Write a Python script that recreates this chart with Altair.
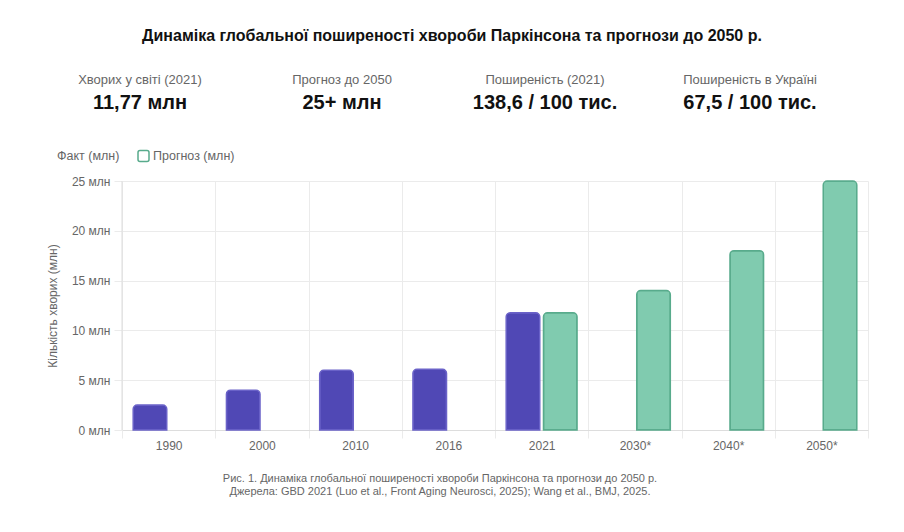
import altair as alt
import pandas as pd

# Categories and series (millions of patients)
years = ["1990", "2000", "2010", "2016", "2021", "2030*", "2040*", "2050*"]
fact_values = [2.5, 4.0, 6.0, 6.1, 11.77, None, None, None]
forecast_values = [None, None, None, None, 11.77, 14.0, 18.0, 25.0]
series_names = ["Факт (млн)", "Прогноз (млн)"]
y_ticks = [0, 5, 10, 15, 20, 25]

title_text = "Динаміка глобальної поширеності хвороби Паркінсона та прогнози до 2050 р."
stat_labels = ["Хворих у світі (2021)", "Прогноз до 2050", "Поширеність (2021)", "Поширеність в Україні"]
stat_values = ["11,77 млн", "25+ млн", "138,6 / 100 тис.", "67,5 / 100 тис."]
caption_lines = [
    "Рис. 1. Динаміка глобальної поширеності хвороби Паркінсона та прогнози до 2050 р.",
    "Джерела: GBD 2021 (Luo et al., Front Aging Neurosci, 2025); Wang et al., BMJ, 2025.",
]

FONT = "Liberation Sans"
PURPLE = "#5048b5"
GREEN_FILL = "#80cbaf"
GREEN_EDGE = "#58ab8c"
GRID = "#ebebeb"
TEXT_GRAY = "#666666"

W, H = 746, 249
PAD = {"left": 122, "top": 181, "right": 36, "bottom": 102}

rows = []
for i, yr in enumerate(years):
    rows.append({"year": yr, "series": series_names[0], "value": fact_values[i]})
    rows.append({"year": yr, "series": series_names[1], "value": forecast_values[i]})
df = pd.DataFrame(rows)

x_enc = alt.X(
    "year:N",
    sort=years,
    scale=alt.Scale(paddingInner=0, paddingOuter=0),
    axis=alt.Axis(
        title=None,
        tickBand="extent",
        grid=True,
        gridColor=GRID,
        domainColor="#dddddd",
        tickColor=GRID,
        tickSize=8,
        labelAngle=0,
        labelFont=FONT,
        labelFontSize=12,
        labelColor=TEXT_GRAY,
        labelPadding=2,
    ),
)

bars = (
    alt.Chart(df)
    .transform_filter("datum.value != null")
    .mark_bar(cornerRadiusTopLeft=4, cornerRadiusTopRight=4, strokeWidth=1.5)
    .encode(
        x=x_enc,
        xOffset=alt.XOffset(
            "series:N",
            sort=series_names,
            scale=alt.Scale(domain=series_names, paddingInner=0.1, paddingOuter=0.3),
        ),
        y=alt.Y(
            "value:Q",
            scale=alt.Scale(domain=[0, 25], nice=False),
            axis=alt.Axis(
                values=y_ticks,
                labelExpr="datum.value + ' млн'",
                grid=True,
                gridColor=GRID,
                domain=False,
                tickColor=GRID,
                tickSize=8,
                labelFont=FONT,
                labelFontSize=12,
                labelColor=TEXT_GRAY,
                labelPadding=4,
                title="Кількість хворих (млн)",
                titleFont=FONT,
                titleFontSize=12,
                titleFontWeight="normal",
                titleColor=TEXT_GRAY,
                titlePadding=12,
            ),
        ),
        color=alt.Color(
            "series:N",
            scale=alt.Scale(domain=series_names, range=[PURPLE, GREEN_FILL]),
            legend=None,
        ),
        stroke=alt.Stroke(
            "series:N",
            scale=alt.Scale(domain=series_names, range=["#6a62c8", GREEN_EDGE]),
            legend=None,
        ),
    )
)

# Left border of the plot area
left_edge = alt.Chart(pd.DataFrame({"v": [0]})).mark_rule(color="#dddddd").encode(
    x=alt.value(0), y=alt.value(0), y2=alt.value(H)
)

# Title
title_df = pd.DataFrame({"t": [title_text]})
title_mark = alt.Chart(title_df).mark_text(
    font=FONT, fontSize=16, fontWeight="bold", color="#111111", align="center", baseline="middle"
).encode(text="t:N", x=alt.value(452 - PAD["left"]), y=alt.value(36 - PAD["top"]))

# Summary statistics row
stat_x = [140, 342, 545, 750]
stats_df = pd.DataFrame({"label": stat_labels, "value": stat_values, "px": [c - PAD["left"] for c in stat_x]})
stat_label_mark = alt.Chart(stats_df).mark_text(
    font=FONT, fontSize=13, color=TEXT_GRAY, align="center", baseline="middle"
).encode(text="label:N", x=alt.X("px:Q", scale=None), y=alt.value(80 - PAD["top"]))
stat_value_mark = alt.Chart(stats_df).mark_text(
    font=FONT, fontSize=20, fontWeight="bold", color="#111111", align="center", baseline="middle"
).encode(text="value:N", x=alt.X("px:Q", scale=None), y=alt.value(103 - PAD["top"]))

# Legend
legend_y = 156 - PAD["top"]
legend_fact = alt.Chart(pd.DataFrame({"t": [series_names[0]]})).mark_text(
    font=FONT, fontSize=12.5, color=TEXT_GRAY, align="left", baseline="middle"
).encode(text="t:N", x=alt.value(57 - PAD["left"]), y=alt.value(legend_y))
legend_box = alt.Chart(pd.DataFrame({"v": [0]})).mark_rect(
    fill="#ffffff", stroke=GREEN_EDGE, strokeWidth=1.5, cornerRadius=2
).encode(
    x=alt.value(138 - PAD["left"]), x2=alt.value(149 - PAD["left"]),
    y=alt.value(legend_y - 5.5), y2=alt.value(legend_y + 5.5),
)
legend_fc = alt.Chart(pd.DataFrame({"t": [series_names[1]]})).mark_text(
    font=FONT, fontSize=12.5, color=TEXT_GRAY, align="left", baseline="middle"
).encode(text="t:N", x=alt.value(153 - PAD["left"]), y=alt.value(legend_y))

# Caption
cap_df = pd.DataFrame({"t": caption_lines, "py": [479 - PAD["top"], 492 - PAD["top"]]})
caption = alt.Chart(cap_df).mark_text(
    font=FONT, fontSize=11, color=TEXT_GRAY, align="center", baseline="middle"
).encode(text="t:N", x=alt.value(440 - PAD["left"]), y=alt.Y("py:Q", scale=None))

chart = (
    alt.layer(
        bars, left_edge, title_mark, stat_label_mark, stat_value_mark,
        legend_fact, legend_box, legend_fc, caption,
    )
    .resolve_scale(x="independent", y="independent")
    .properties(width=W, height=H, autosize=alt.AutoSizeParams(type="none"), padding=PAD, background="#ffffff")
    .configure_view(stroke=None)
)

chart.save("out.html", embed_options={"renderer": "svg", "actions": False})
